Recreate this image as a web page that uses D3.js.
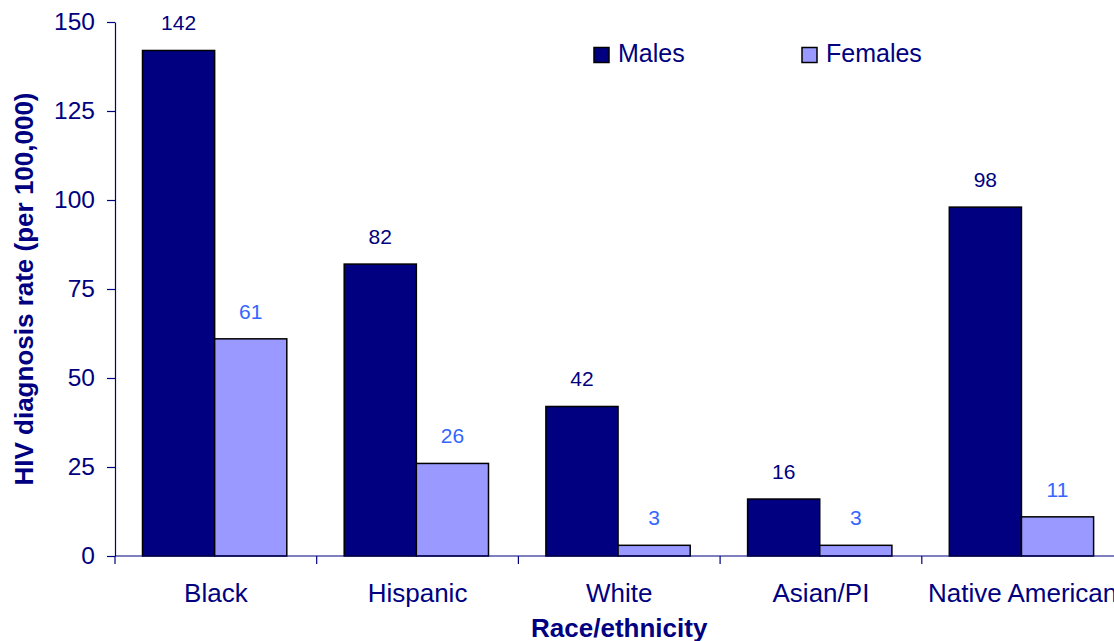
<!DOCTYPE html>
<html>
<head>
<meta charset="utf-8">
<script src="https://cdn.jsdelivr.net/npm/d3@7/dist/d3.min.js"></script>
<style>
  html, body { margin: 0; padding: 0; background: #ffffff; }
  svg { display: block; font-family: "Liberation Sans", Arial, Helvetica, sans-serif; }
</style>
</head>
<body>
<svg id="chart" width="1114" height="641"></svg>
<script>
// HIV diagnosis rates by race/ethnicity and sex (per 100,000)
const categories = ["Black", "Hispanic", "White", "Asian/PI", "Native American"];
const seriesNames = ["Males", "Females"];
const males = [142, 82, 42, 16, 98];
const females = [61, 26, 3, 3, 11];
const yTicks = [0, 25, 50, 75, 100, 125, 150];
const yTitle = "HIV diagnosis rate (per 100,000)";
const xTitle = "Race/ethnicity";

const seriesValues = { Males: males, Females: females };
const barFill = { Males: "#000080", Females: "#9999ff" };
const labelFill = { Males: "#000080", Females: "#3366ff" };
const navy = "#000080";

const svg = d3.select("#chart");

const plotLeft = 115, groupWidth = 201.7;
const x0 = d3.scaleBand()
  .domain(categories)
  .range([plotLeft, plotLeft + groupWidth * categories.length])
  .paddingInner(0).paddingOuter(0);
const x1 = d3.scaleBand()
  .domain(seriesNames)
  .range([27.5, 171.8])
  .padding(0);
const y = d3.scaleLinear().domain([0, 150]).range([556, 22]);

// Y axis
const yAxis = svg.append("g")
  .attr("transform", `translate(${plotLeft},0)`)
  .call(d3.axisLeft(y).tickValues(yTicks).tickSize(8).tickPadding(12).tickSizeOuter(0));
yAxis.select(".domain").attr("stroke", navy).attr("stroke-width", 1.2);
yAxis.selectAll(".tick line").attr("stroke", navy).attr("stroke-width", 1.2);
yAxis.selectAll(".tick text")
  .attr("fill", navy)
  .attr("font-size", 24.5)
  .attr("font-family", "Liberation Sans, Arial, sans-serif");

// Bars
const groups = svg.append("g").selectAll("g")
  .data(categories)
  .join("g")
  .attr("transform", d => `translate(${x0(d)},0)`);

groups.selectAll("rect")
  .data((c, i) => seriesNames.map(s => ({ s, v: seriesValues[s][i] })))
  .join("rect")
  .attr("x", d => x1(d.s))
  .attr("width", x1.bandwidth())
  .attr("y", d => y(d.v))
  .attr("height", d => y(0) - y(d.v))
  .attr("fill", d => barFill[d.s])
  .attr("stroke", "#000000")
  .attr("stroke-width", 1.5);

groups.selectAll("text.val")
  .data((c, i) => seriesNames.map(s => ({ s, v: seriesValues[s][i] })))
  .join("text")
  .attr("class", "val")
  .attr("x", d => x1(d.s) + x1.bandwidth() / 2)
  .attr("y", d => y(d.v) - 20)
  .attr("text-anchor", "middle")
  .attr("font-size", 21)
  .attr("fill", d => labelFill[d.s])
  .text(d => d.v);

// X axis baseline, category boundary ticks and labels
const xAxis = svg.append("g");
xAxis.append("line")
  .attr("x1", x0.range()[0]).attr("x2", x0.range()[1])
  .attr("y1", y(0)).attr("y2", y(0))
  .attr("stroke", navy).attr("stroke-width", 1.2);
const bounds = categories.map(c => x0(c)).concat([x0.range()[1]]);
xAxis.selectAll("line.tk")
  .data(bounds)
  .join("line")
  .attr("class", "tk")
  .attr("x1", d => d).attr("x2", d => d)
  .attr("y1", y(0)).attr("y2", y(0) + 8)
  .attr("stroke", navy).attr("stroke-width", 1.2);
xAxis.selectAll("text.cat")
  .data(categories)
  .join("text")
  .attr("class", "cat")
  .attr("x", d => x0(d) + x0.bandwidth() / 2)
  .attr("y", 602)
  .attr("text-anchor", "middle")
  .attr("font-size", 26)
  .attr("fill", navy)
  .text(d => d);

// Axis titles
svg.append("text")
  .attr("x", x0.range()[0] + (groupWidth * categories.length) / 2)
  .attr("y", 637)
  .attr("text-anchor", "middle")
  .attr("font-size", 26)
  .attr("font-weight", "bold")
  .attr("fill", navy)
  .text(xTitle);

svg.append("text")
  .attr("transform", `translate(33,${(y(0) + y(150)) / 2}) rotate(-90)`)
  .attr("text-anchor", "middle")
  .attr("font-size", 26)
  .attr("font-weight", "bold")
  .attr("fill", navy)
  .text(yTitle);

// Legend
const legendX = { Males: 594, Females: 802 };
const legend = svg.append("g").selectAll("g")
  .data(seriesNames)
  .join("g")
  .attr("transform", d => `translate(${legendX[d]},47.5)`);
legend.append("rect")
  .attr("width", 15).attr("height", 15)
  .attr("fill", d => barFill[d])
  .attr("stroke", "#000000").attr("stroke-width", 1.5);
legend.append("text")
  .attr("x", 24).attr("y", 14.5)
  .attr("font-size", 25)
  .attr("fill", navy)
  .text(d => d);
</script>
</body>
</html>
